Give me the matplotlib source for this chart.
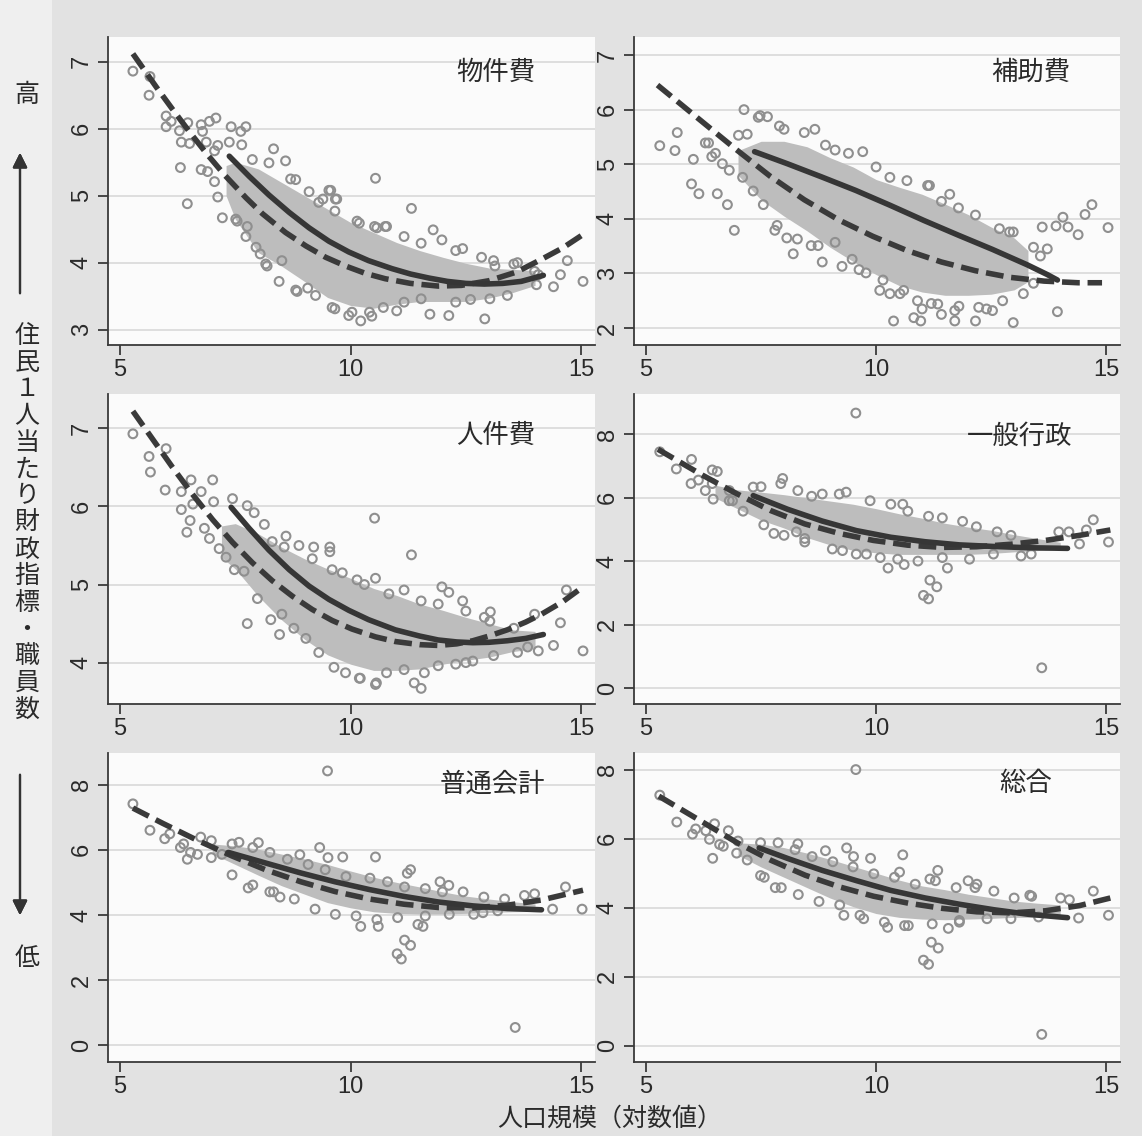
import matplotlib
matplotlib.use("Agg")
import matplotlib.pyplot as plt
from matplotlib.patches import Rectangle

plt.rcParams['font.family'] = ['Noto Sans CJK JP', 'DejaVu Sans']
NUM_FONT = ['Liberation Sans Narrow', 'Liberation Sans', 'DejaVu Sans']

# ---------------- data ----------------
titles = ["物件費", "補助費", "人件費", "一般行政", "普通会計", "総合"]
x_ticks = [5, 10, 15]
y_ticks_1 = [3, 4, 5, 6, 7]
y_ticks_2 = [2, 3, 4, 5, 6, 7]
y_ticks_3 = [4, 5, 6, 7]
y_ticks_4 = [0, 2, 4, 6, 8]
y_ticks_5 = [0, 2, 4, 6, 8]
y_ticks_6 = [0, 2, 4, 6, 8]

# ---- Panel 1: 物件費 ----
p1_dash_x = [5.28, 5.79, 6.14, 6.51, 6.90, 7.28, 7.73, 8.09, 8.59, 9.03, 9.46, 9.89, 10.32, 10.75,
             11.3, 11.9, 12.4, 13.0, 13.6, 14.14, 14.6, 15.04]
p1_dash_y = [7.12, 6.62, 6.29, 5.95, 5.61, 5.30, 4.97, 4.73, 4.45, 4.25, 4.08, 3.95, 3.84, 3.76,
             3.69, 3.65, 3.66, 3.73, 3.86, 4.05, 4.22, 4.42]
p1_solid_x = [7.37, 7.80, 8.23, 8.67, 9.10, 9.53, 9.96, 10.39, 10.9, 11.3, 11.7, 12.1, 12.5, 12.9,
              13.3, 13.7, 14.18]
p1_solid_y = [5.59, 5.29, 5.01, 4.75, 4.52, 4.32, 4.16, 4.03, 3.91, 3.83, 3.77, 3.72, 3.69, 3.68,
              3.69, 3.72, 3.81]
p1_band_x = [7.3, 7.5, 8.0, 8.5, 9.0, 9.5, 10.0, 10.5, 11.0, 11.5, 12.0, 12.5, 13.0, 13.5, 14.0]
p1_band_lo = [5.0, 4.65, 4.15, 3.95, 3.72, 3.48, 3.36, 3.32, 3.38, 3.42, 3.42, 3.42, 3.47, 3.55, 3.66]
p1_band_hi = [5.45, 5.50, 5.40, 5.20, 5.00, 4.80, 4.60, 4.45, 4.30, 4.18, 4.08, 3.99, 3.92, 3.90, 3.88]
p1_pts = [(5.28, 6.86), (5.63, 6.50), (5.65, 6.78), (6.0, 6.19), (6.0, 6.03), (6.11, 6.11),
          (6.29, 5.97), (6.47, 6.09), (6.33, 5.80), (6.51, 5.78), (6.31, 5.42), (6.46, 4.88),
          (6.76, 6.06), (6.94, 6.11), (7.08, 6.16), (6.79, 5.96), (6.87, 5.80), (7.05, 5.67),
          (7.12, 5.75), (6.76, 5.39), (6.90, 5.36), (7.41, 6.03), (7.62, 5.96), (7.73, 6.03),
          (7.37, 5.80), (7.64, 5.76), (8.33, 5.70), (7.05, 5.21), (7.12, 4.98), (7.22, 4.67),
          (7.51, 4.65), (7.73, 4.39), (7.95, 4.23), (8.16, 3.98), (8.45, 3.72), (8.81, 3.59),
          (9.24, 3.51), (9.60, 3.33), (10.03, 3.26), (10.46, 3.20), (7.87, 5.54), (8.23, 5.49),
          (8.59, 5.52), (8.81, 5.24), (9.10, 5.06), (9.53, 5.08), (9.67, 4.95), (9.31, 4.90),
          (10.14, 4.62), (10.57, 4.52), (10.75, 4.54), (10.54, 5.26), (11.32, 4.81), (7.54, 4.62),
          (7.76, 4.54), (8.04, 4.13), (8.19, 3.95), (8.51, 4.03), (8.84, 3.57), (9.07, 3.62),
          (9.57, 5.08), (9.70, 4.95), (9.66, 4.77), (9.66, 3.31), (9.96, 3.21), (10.22, 3.13),
          (10.41, 3.26), (10.71, 3.33), (10.19, 4.59), (10.52, 4.54), (10.78, 4.54), (11.79, 4.49),
          (11.98, 4.34), (12.43, 4.21), (11.72, 3.23), (12.13, 3.21), (12.91, 3.16), (12.84, 4.08),
          (13.13, 3.95), (13.54, 3.98), (13.99, 3.87), (14.40, 3.64), (14.55, 3.82), (14.70, 4.03),
          (15.04, 3.72), (13.40, 3.51), (14.03, 3.67), (11.16, 3.41), (11.53, 3.46), (12.28, 3.41),
          (13.02, 3.46), (11.16, 4.39), (11.53, 4.29), (12.28, 4.18), (13.10, 4.03), (13.62, 4.0),
          (14.07, 3.82), (8.7, 5.25), (9.4, 4.95), (12.6, 3.45), (11.0, 3.28)]

# ---- Panel 2: 補助費 ----
p2_dash_x = [5.25, 6.06, 6.96, 7.70, 8.44, 9.19, 9.93, 10.67, 11.42, 12.16, 12.90, 13.65, 14.39, 14.91]
p2_dash_y = [6.45, 5.89, 5.27, 4.78, 4.35, 3.98, 3.68, 3.42, 3.21, 3.05, 2.93, 2.86, 2.83, 2.83]
p2_solid_x = [7.36, 8.07, 8.81, 9.56, 10.30, 11.04, 11.79, 12.53, 13.28, 13.72, 13.94]
p2_solid_y = [5.23, 5.01, 4.77, 4.52, 4.25, 3.97, 3.70, 3.44, 3.16, 2.98, 2.88]
p2_band_x = [7.0, 7.5, 8.0, 8.5, 9.0, 9.5, 10.0, 10.5, 11.0, 11.5, 12.0, 12.5, 13.0, 13.3]
p2_band_lo = [4.80, 4.35, 4.05, 3.78, 3.48, 3.22, 2.98, 2.78, 2.66, 2.60, 2.60, 2.62, 2.70, 2.85]
p2_band_hi = [5.25, 5.42, 5.42, 5.32, 5.12, 4.95, 4.72, 4.58, 4.45, 4.27, 4.08, 3.85, 3.65, 3.42]
p2_pts = [(5.30, 5.34), (5.63, 5.25), (5.68, 5.58), (6.03, 5.09), (5.99, 4.64), (6.15, 4.46),
          (6.55, 4.46), (6.77, 4.26), (6.92, 3.79), (7.13, 6.00), (7.01, 5.53), (7.80, 3.79),
          (8.20, 3.36), (8.83, 3.21), (8.06, 3.65), (8.59, 3.51), (7.44, 5.86), (7.64, 5.87),
          (8.67, 5.64), (6.29, 5.39), (6.43, 5.14), (10.38, 2.13), (10.82, 2.19), (10.97, 2.13),
          (11.42, 2.25), (11.71, 2.13), (12.16, 2.13), (12.53, 2.32), (12.98, 2.10), (10.08, 2.69),
          (10.30, 2.63), (10.60, 2.69), (13.61, 3.85), (13.91, 3.87), (14.06, 4.03), (14.17, 3.85),
          (14.39, 3.71), (14.54, 4.08), (14.69, 4.26), (15.04, 3.84), (13.94, 2.30), (13.42, 3.48),
          (13.72, 3.45), (13.57, 3.32), (9.71, 5.23), (11.12, 4.61), (12.16, 4.07), (12.90, 3.76),
          (9.26, 3.13), (9.78, 3.01), (8.0, 5.64), (8.44, 5.58), (9.11, 5.26), (10.30, 4.76),
          (10.67, 4.70), (11.16, 4.61), (11.42, 4.32), (11.79, 4.20), (12.68, 3.82), (12.98, 3.76),
          (7.55, 4.26), (7.85, 3.88), (8.29, 3.63), (8.74, 3.51), (9.11, 3.57), (9.48, 3.26),
          (9.63, 3.07), (10.15, 2.88), (10.52, 2.63), (10.90, 2.50), (11.34, 2.44), (11.71, 2.32),
          (12.23, 2.38), (12.75, 2.50), (13.20, 2.63), (13.42, 2.82), (6.36, 5.39), (6.51, 5.20),
          (6.66, 5.01), (6.81, 4.89), (7.10, 4.76), (7.33, 4.51), (7.48, 5.89), (8.9, 5.35),
          (9.4, 5.20), (10.0, 4.95), (11.2, 2.45), (11.8, 2.40), (12.4, 2.35), (7.2, 5.55),
          (7.9, 5.70), (11.0, 2.35), (11.6, 4.45)]

# ---- Panel 3: 人件費 ----
p3_dash_x = [5.28, 5.71, 6.14, 6.58, 7.01, 7.44, 7.87, 8.30, 8.74, 9.17, 9.60, 10.03, 10.54, 10.97,
             11.5, 11.9, 12.3, 12.65, 13.0, 13.4, 13.8, 14.14, 14.6, 15.04]
p3_dash_y = [7.22, 6.86, 6.50, 6.15, 5.83, 5.54, 5.28, 5.05, 4.85, 4.68, 4.54, 4.43, 4.33, 4.27,
             4.23, 4.22, 4.24, 4.28, 4.34, 4.42, 4.52, 4.62, 4.78, 4.97]
p3_solid_x = [7.41, 7.80, 8.23, 8.67, 9.10, 9.53, 9.96, 10.39, 10.97, 11.5, 11.9, 12.3, 12.65, 13.0,
              13.4, 13.8, 14.18]
p3_solid_y = [5.99, 5.72, 5.44, 5.19, 4.98, 4.81, 4.67, 4.55, 4.42, 4.34, 4.29, 4.265, 4.255, 4.26,
              4.28, 4.31, 4.36]
p3_band_x = [7.2, 7.5, 8.0, 8.5, 9.0, 9.5, 10.0, 10.5, 11.0, 11.5, 12.0, 12.5, 13.0, 13.5, 14.0]
p3_band_lo = [5.35, 5.20, 4.85, 4.55, 4.30, 4.10, 3.98, 3.90, 3.90, 3.92, 3.98, 4.03, 4.07, 4.14, 4.18]
p3_band_hi = [5.75, 5.78, 5.65, 5.48, 5.33, 5.20, 5.08, 4.95, 4.86, 4.75, 4.67, 4.58, 4.50, 4.42, 4.40]
p3_pts = [(5.28, 6.93), (5.63, 6.64), (5.66, 6.44), (6.0, 6.74), (5.98, 6.21), (6.33, 6.19),
          (6.54, 6.34), (6.76, 6.19), (6.58, 6.03), (6.33, 5.96), (6.52, 5.82), (6.45, 5.67),
          (7.01, 6.34), (7.03, 6.06), (7.44, 6.10), (7.76, 6.01), (7.91, 5.92), (6.83, 5.72),
          (6.94, 5.59), (7.15, 5.46), (7.30, 5.35), (7.48, 5.19), (7.69, 5.17), (7.98, 4.82),
          (8.27, 4.55), (8.51, 4.62), (8.77, 4.44), (9.03, 4.31), (9.31, 4.13), (9.64, 3.94),
          (9.89, 3.87), (10.21, 3.80), (10.54, 3.72), (8.13, 5.77), (8.30, 5.55), (8.56, 5.48),
          (8.88, 5.50), (9.17, 5.33), (9.60, 5.19), (9.82, 5.15), (10.14, 5.06), (10.54, 5.08),
          (10.83, 4.88), (9.55, 5.48), (9.55, 5.42), (7.76, 4.50), (8.46, 4.36), (10.52, 5.85),
          (11.32, 5.38), (10.19, 3.80), (10.56, 3.74), (11.38, 3.74), (11.53, 3.67), (11.60, 3.87),
          (11.98, 4.97), (12.13, 4.90), (12.43, 4.79), (13.03, 4.65), (13.99, 4.62), (14.68, 4.93),
          (14.55, 4.51), (14.40, 4.22), (15.04, 4.15), (13.84, 4.20), (14.07, 4.15), (11.16, 4.93),
          (11.53, 4.79), (11.90, 4.75), (12.50, 4.66), (13.02, 4.53), (13.54, 4.44), (10.78, 3.87),
          (11.16, 3.91), (11.90, 3.96), (12.50, 4.00), (13.10, 4.09), (13.62, 4.13), (12.65, 4.02),
          (12.28, 3.98), (8.6, 5.62), (9.2, 5.48), (10.3, 5.00), (12.9, 4.58)]

# ---- Panel 4: 一般行政 ----
p4_dash_x = [5.26, 6.22, 6.96, 7.71, 8.45, 9.20, 9.94, 10.69, 11.44, 12.18, 12.93, 13.68, 14.42, 15.09]
p4_dash_y = [7.53, 6.72, 6.14, 5.60, 5.18, 4.88, 4.66, 4.51, 4.44, 4.46, 4.54, 4.66, 4.82, 4.99]
p4_solid_x = [7.33, 8.08, 8.83, 9.57, 10.32, 11.06, 11.81, 12.55, 13.30, 14.16]
p4_solid_y = [6.07, 5.64, 5.27, 4.97, 4.76, 4.62, 4.52, 4.47, 4.43, 4.41]
p4_band_x = [6.5, 7.0, 7.5, 8.0, 8.5, 9.0, 9.5, 10.0, 10.5, 11.0, 11.5, 12.0, 12.5, 13.0, 13.5, 14.0]
p4_band_lo = [6.00, 5.65, 5.30, 5.05, 4.75, 4.52, 4.35, 4.27, 4.22, 4.22, 4.22, 4.22, 4.25, 4.30, 4.34, 4.38]
p4_band_hi = [6.40, 6.25, 6.18, 6.10, 6.00, 5.90, 5.80, 5.66, 5.50, 5.36, 5.20, 5.08, 4.98, 4.84, 4.72, 4.60]
p4_pts = [(9.56, 8.67), (13.60, 0.65), (11.03, 2.93), (11.14, 2.82), (11.17, 3.41), (11.32, 3.20),
          (10.26, 3.79), (10.61, 3.90), (11.55, 3.79), (5.66, 6.91), (5.99, 7.21), (5.98, 6.45),
          (6.44, 6.88), (6.55, 6.83), (6.46, 5.96), (6.29, 6.23), (6.81, 5.91), (7.97, 6.61),
          (7.78, 4.88), (8.45, 4.72), (8.27, 4.93), (9.35, 6.18), (9.87, 5.91), (10.58, 5.80),
          (13.97, 4.93), (14.19, 4.93), (14.42, 4.55), (14.72, 5.31), (15.05, 4.61), (14.57, 4.99),
          (13.15, 4.17), (13.37, 4.23), (9.27, 4.34), (9.79, 4.23), (5.30, 7.45), (7.33, 6.34),
          (7.93, 6.45), (8.30, 6.23), (8.83, 6.12), (9.20, 6.12), (10.32, 5.80), (10.69, 5.58),
          (11.14, 5.42), (11.44, 5.37), (11.88, 5.26), (12.18, 5.09), (12.63, 4.93), (12.93, 4.82),
          (7.11, 5.58), (7.56, 5.15), (8.0, 4.82), (8.45, 4.61), (9.05, 4.39), (9.57, 4.23),
          (10.09, 4.12), (10.47, 4.07), (10.91, 4.01), (11.44, 4.12), (12.03, 4.07), (12.55, 4.23),
          (6.44, 6.45), (6.81, 6.23), (6.88, 5.91), (6.14, 6.56), (7.5, 6.35), (8.6, 6.05)]

# ---- Panel 5: 普通会計 ----
p5_dash_x = [5.28, 5.93, 6.68, 7.43, 8.17, 8.92, 9.66, 10.41, 11.16, 11.90, 12.65, 13.40, 14.14, 15.04]
p5_dash_y = [7.28, 6.81, 6.29, 5.81, 5.38, 5.02, 4.72, 4.49, 4.33, 4.23, 4.22, 4.30, 4.46, 4.76]
p5_solid_x = [7.35, 8.17, 8.92, 9.66, 10.41, 11.16, 11.90, 12.65, 13.40, 14.14]
p5_solid_y = [5.92, 5.59, 5.29, 5.02, 4.78, 4.57, 4.40, 4.28, 4.20, 4.16]
p5_band_x = [7.0, 7.5, 8.0, 8.5, 9.0, 9.5, 10.0, 10.5, 11.0, 11.5, 12.0, 12.5, 13.0, 13.5, 14.0]
p5_band_lo = [5.88, 5.55, 5.22, 4.90, 4.64, 4.38, 4.22, 4.10, 4.05, 4.03, 4.03, 4.05, 4.08, 4.10, 4.11]
p5_band_hi = [6.18, 6.12, 6.02, 5.87, 5.72, 5.55, 5.35, 5.16, 5.00, 4.86, 4.71, 4.58, 4.49, 4.41, 4.34]
p5_pts = [(9.50, 8.42), (13.57, 0.55), (11.01, 2.81), (11.10, 2.65), (11.17, 3.23), (11.30, 3.07),
          (9.83, 5.78), (10.54, 5.78), (9.33, 6.07), (9.51, 5.76), (5.28, 7.41), (5.65, 6.60),
          (5.97, 6.34), (6.46, 5.71), (6.31, 6.07), (6.75, 6.39), (6.98, 6.28), (6.53, 5.92),
          (7.78, 4.83), (8.25, 4.71), (8.47, 4.55), (10.22, 3.65), (10.60, 3.65), (11.46, 3.71),
          (11.57, 3.65), (11.23, 5.28), (11.30, 5.39), (11.94, 5.02), (12.13, 4.91), (14.38, 4.18),
          (15.02, 4.18), (14.66, 4.86), (13.77, 4.60), (13.99, 4.65), (12.87, 4.07), (7.43, 6.18),
          (7.58, 6.23), (7.88, 6.07), (8.25, 5.92), (8.63, 5.71), (9.08, 5.55), (9.45, 5.39),
          (9.90, 5.18), (10.42, 5.13), (10.80, 5.02), (11.17, 4.86), (11.62, 4.81), (11.99, 4.71),
          (12.44, 4.71), (12.89, 4.55), (13.34, 4.49), (7.43, 5.23), (7.88, 4.92), (8.33, 4.71),
          (8.78, 4.49), (9.23, 4.18), (9.67, 4.02), (10.12, 3.97), (10.57, 3.86), (11.02, 3.92),
          (11.62, 3.97), (12.14, 4.02), (12.67, 4.02), (13.19, 4.13), (6.08, 6.49), (6.38, 6.18),
          (6.68, 5.86), (6.98, 5.76), (7.21, 5.86), (8.0, 6.22), (8.9, 5.85)]

# ---- Panel 6: 総合 ----
p6_dash_x = [5.28, 6.23, 6.97, 7.72, 8.46, 9.21, 9.95, 10.70, 11.44, 12.19, 12.93, 13.68, 14.42, 15.09]
p6_dash_y = [7.23, 6.48, 5.89, 5.37, 4.94, 4.60, 4.33, 4.13, 3.98, 3.88, 3.85, 3.91, 4.06, 4.28]
p6_solid_x = [7.46, 8.09, 8.83, 9.58, 10.32, 11.07, 11.81, 12.56, 13.30, 14.16]
p6_solid_y = [5.73, 5.42, 5.08, 4.78, 4.50, 4.28, 4.10, 3.94, 3.81, 3.71]
p6_band_x = [7.0, 7.5, 8.0, 8.5, 9.0, 9.5, 10.0, 10.5, 11.0, 11.5, 12.0, 12.5, 13.0, 13.5, 14.0]
p6_band_lo = [5.52, 5.18, 4.88, 4.58, 4.28, 4.03, 3.83, 3.72, 3.67, 3.65, 3.67, 3.69, 3.72, 3.72, 3.74]
p6_band_hi = [5.88, 5.84, 5.74, 5.58, 5.40, 5.20, 5.00, 4.80, 4.63, 4.52, 4.39, 4.29, 4.19, 4.13, 4.08]
p6_pts = [(9.56, 8.00), (13.60, 0.33), (11.03, 2.48), (11.14, 2.36), (11.20, 3.00), (11.35, 2.83),
          (10.58, 5.53), (9.36, 5.73), (9.51, 5.48), (9.88, 5.43), (5.30, 7.26), (5.67, 6.48),
          (6.01, 6.13), (6.30, 6.23), (6.49, 6.43), (6.45, 5.43), (6.79, 6.23), (7.00, 5.93),
          (6.60, 5.83), (7.81, 4.58), (7.49, 4.93), (9.30, 3.78), (9.73, 3.68), (10.25, 3.43),
          (10.62, 3.48), (11.57, 3.40), (11.81, 3.58), (11.17, 4.83), (11.34, 5.08), (12.00, 4.78),
          (12.15, 4.58), (14.40, 3.70), (15.05, 3.78), (14.72, 4.48), (14.01, 4.28), (14.20, 4.23),
          (13.34, 4.36), (10.51, 5.03), (7.49, 5.88), (7.87, 5.88), (8.24, 5.68), (8.61, 5.48),
          (9.06, 5.33), (9.50, 5.18), (9.95, 4.98), (10.40, 4.88), (10.85, 4.68), (11.29, 4.78),
          (11.74, 4.58), (12.19, 4.68), (12.56, 4.48), (13.00, 4.28), (13.38, 4.33), (7.57, 4.88),
          (7.94, 4.58), (8.31, 4.38), (8.76, 4.18), (9.21, 4.08), (9.65, 3.78), (10.18, 3.58),
          (10.70, 3.48), (11.22, 3.53), (11.81, 3.63), (12.41, 3.68), (12.93, 3.68), (13.53, 3.73),
          (6.08, 6.28), (6.38, 5.98), (6.68, 5.78), (6.97, 5.58), (7.20, 5.38), (8.3, 5.85), (8.9, 5.65)]

panels = [
    (p1_pts, p1_band_x, p1_band_lo, p1_band_hi, p1_dash_x, p1_dash_y, p1_solid_x, p1_solid_y, y_ticks_1),
    (p2_pts, p2_band_x, p2_band_lo, p2_band_hi, p2_dash_x, p2_dash_y, p2_solid_x, p2_solid_y, y_ticks_2),
    (p3_pts, p3_band_x, p3_band_lo, p3_band_hi, p3_dash_x, p3_dash_y, p3_solid_x, p3_solid_y, y_ticks_3),
    (p4_pts, p4_band_x, p4_band_lo, p4_band_hi, p4_dash_x, p4_dash_y, p4_solid_x, p4_solid_y, y_ticks_4),
    (p5_pts, p5_band_x, p5_band_lo, p5_band_hi, p5_dash_x, p5_dash_y, p5_solid_x, p5_solid_y, y_ticks_5),
    (p6_pts, p6_band_x, p6_band_lo, p6_band_hi, p6_dash_x, p6_dash_y, p6_solid_x, p6_solid_y, y_ticks_6),
]

# ---------------- layout / style ----------------
W, H = 1142, 1136
fig = plt.figure(figsize=(W / 100, H / 100), dpi=100, facecolor='#efefef')
fig.patches.append(Rectangle((52 / W, 0), 1 - 52 / W, 1, transform=fig.transFigure,
                             facecolor='#e2e2e2', edgecolor='none', zorder=-10))

col_left = [108, 634]
col_w = [487, 486]
row_top = [37, 394, 753]
row_bot = [345, 704, 1062]
ylims = [(2.77, 7.37), (1.69, 7.33), (3.47, 7.44), (-0.49, 9.27), (-0.51, 8.97), (-0.47, 8.48)]
title_pos = [(0.877, 0.886), (0.897, 0.886), (0.877, 0.865), (0.903, 0.865), (0.897, 0.90), (0.86, 0.90)]

axis_col = '#3a3a3a'
for i, (pts, bx, blo, bhi, dx, dy, sx, sy, yt) in enumerate(panels):
    r, c = divmod(i, 2)
    ax = fig.add_axes([col_left[c] / W, 1 - row_bot[r] / H, col_w[c] / W, (row_bot[r] - row_top[r]) / H])
    ax.set_facecolor('#fbfbfb')
    ax.set_xlim(4.74, 15.3)
    ax.set_ylim(*ylims[i])
    ax.set_xticks(x_ticks)
    ax.set_yticks(yt)
    ax.grid(axis='y', color='#dedede', lw=1.4)
    ax.set_axisbelow(True)
    for s in ['top', 'right']:
        ax.spines[s].set_visible(False)
    for s in ['left', 'bottom']:
        ax.spines[s].set_color(axis_col)
        ax.spines[s].set_linewidth(1.3)
    ax.tick_params(axis='both', direction='out', length=7, width=1.3, color=axis_col, labelcolor='#2a2a2a')
    ax.tick_params(axis='x', pad=3)
    ax.tick_params(axis='y', pad=4)
    for lab in ax.get_xticklabels():
        lab.set_fontfamily(NUM_FONT)
        lab.set_fontsize(17)
    for lab in ax.get_yticklabels():
        lab.set_fontfamily(NUM_FONT)
        lab.set_fontsize(17)
        lab.set_rotation(90)
        lab.set_va('center')

    px = [p[0] for p in pts]
    py = [p[1] for p in pts]
    ax.fill_between(bx, blo, bhi, color='#bdbdbd', lw=0, zorder=1)
    ax.scatter(px, py, s=40, facecolors='none', edgecolors='#8f8f8f', linewidths=1.5, zorder=2)
    ld, = ax.plot(dx, dy, color='#3a3a3a', lw=4.0, zorder=3)
    ld.set_dashes([3.2, 1.4])
    ld.set_dash_capstyle('butt')
    ax.plot(sx, sy, color='#363636', lw=4.0, zorder=4, solid_capstyle='round', solid_joinstyle='round')

    ax.text(title_pos[i][0], title_pos[i][1], titles[i], transform=ax.transAxes,
            ha='right', va='center', fontsize=19, color='#2a2a2a')

# ---------------- left vertical label ----------------
fig.text(27 / W, 1 - 95 / H, "高", ha='center', va='center', fontsize=18, color='#2a2a2a')
fig.text(27 / W, 1 - 958 / H, "低", ha='center', va='center', fontsize=18, color='#2a2a2a')
label_chars = "住民１人当たり財政指標・職員数"
y0, step = 336, 26.7
for k, ch in enumerate(label_chars):
    fig.text(27 / W, 1 - (y0 + k * step) / H, ch, ha='center', va='center', fontsize=18, color='#2a2a2a')

fig.add_artist(plt.annotate('', xy=(20 / W, 1 - 150 / H), xytext=(20 / W, 1 - 296 / H),
                            xycoords='figure fraction', textcoords='figure fraction',
                            arrowprops=dict(arrowstyle='-|>', color='#333333', lw=1.6,
                                            mutation_scale=22)))
fig.add_artist(plt.annotate('', xy=(20 / W, 1 - 918 / H), xytext=(20 / W, 1 - 772 / H),
                            xycoords='figure fraction', textcoords='figure fraction',
                            arrowprops=dict(arrowstyle='-|>', color='#333333', lw=1.6,
                                            mutation_scale=22)))

fig.text(610 / W, 1 - 1119 / H, "人口規模（対数値）", ha='center', va='center', fontsize=18, color='#2a2a2a')

fig.savefig('out.png', dpi=100, facecolor=fig.get_facecolor())
